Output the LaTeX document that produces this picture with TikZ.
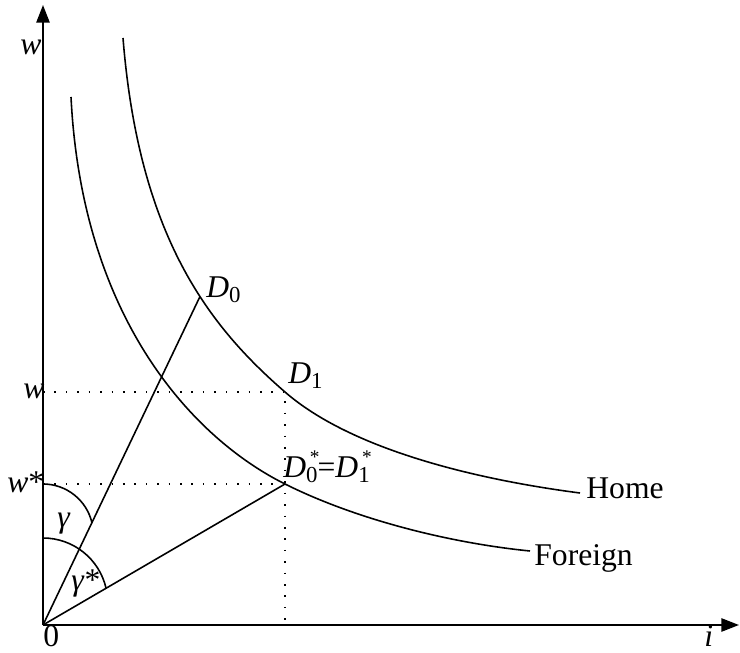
\documentclass[tikz,border=0pt]{standalone}
\usepackage{fontspec}
\setmainfont{Liberation Serif}
\usetikzlibrary{arrows.meta}
\tikzset{
  curve/.style={line width=0.9pt},
  guide/.style={line width=0.9pt,dash pattern=on 0.9pt off 5.6pt},
  lab/.style={font=\fontsize{18}{21}\selectfont,inner sep=0pt}
}
\newcommand{\lowsub}[1]{\raisebox{-3pt}{\fontsize{13}{13}\selectfont #1}}
\newcommand{\Dstar}[1]{\textit{D}\makebox[0pt][l]{\kern0.12em\raisebox{7.5pt}{\fontsize{11}{11}\selectfont *}}\lowsub{#1}}

\begin{document}
\begin{tikzpicture}[>={Triangle[length=10pt,width=7.5pt]}]
\useasboundingbox (-0.86,-0.54) rectangle (13.94,12.5);
\coordinate (O) at (0,0);
\coordinate (ytop) at (0,12.4);
\coordinate (xtip) at (13.92,0);
\coordinate (D1) at (4.84,4.66);
\coordinate (D0s) at (4.84,2.82);
\coordinate (wlev) at (0,4.66);
\coordinate (wslev) at (0,2.82);
\coordinate (ifoot) at (4.84,0);
% axes
\draw[line width=1.1pt,->] (O) -- (ytop);
\draw[line width=1.1pt,->] (O) -- (xtip);
\node[lab,anchor=base west] (wtop) at (-0.46,11.4) {\textit{w}};
\node[lab,anchor=base west] (ilab) at (13.22,-0.42) {\textit{i}};
\node[lab,anchor=base west] (zero) at (0.0,-0.42) {0};
% home and foreign curves
\draw[curve] (1.60,11.74) .. controls (1.92,7.75) and (3.33,5.97) .. coordinate[pos=0.6] (D0) (D1)
  .. controls (6.197,3.479) and (8.756,2.898) .. (10.74,2.64);
\draw[curve] (0.56,10.56) .. controls (0.785,6.065) and (3.05,3.71) .. (D0s)
  .. controls (6.27,2.105) and (8.148,1.639) .. (9.74,1.48);
\node[lab,anchor=base west] (home) at (10.86,2.54) {Home};
\node[lab,anchor=base west] (foreign) at (9.82,1.2) {Foreign};
% rays
\draw[curve] (O) -- (D0);
\draw[curve] (O) -- (D0s);
% guides
\draw[guide] (wlev) -- (D1) -- (ifoot);
\draw[guide] (wslev) -- (D0s);
\node[lab,anchor=base west] (wl) at (-0.4,4.54) {\textit{w}};
\node[lab,anchor=base west] (wsl) at (-0.72,2.66) {\textit{w}*};
% angles
\draw[curve] (wslev) arc[start angle=90,end angle=13,radius=1.006];
\draw[curve] (0,1.74) arc[start angle=90,end angle=13,radius=1.294];
\node[lab,anchor=base west] (gam) at (0.28,1.96) {\textit{γ}};
\node[lab,anchor=base west] (gams) at (0.56,0.7) {\textit{γ}*};
% points
\node[lab,anchor=base west] (D0lab) at (3.26,6.56) {\textit{D}\lowsub{0}};
\node[lab,anchor=base west] (D1lab) at (4.9,4.84) {\textit{D}\lowsub{1}};
\node[lab,anchor=base west] (Dslab) at (4.8,2.96) {\Dstar{0}=\Dstar{1}};
\end{tikzpicture}
\end{document}
